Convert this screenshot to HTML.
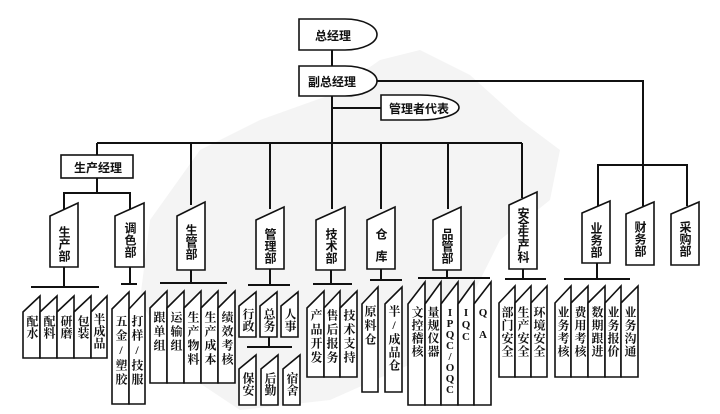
<!DOCTYPE html>
<html><head><meta charset="utf-8"><style>
html,body{margin:0;padding:0;background:#fff}
#c{position:relative;width:720px;height:414px;overflow:hidden}
svg{position:absolute;left:0;top:0}
.t{position:absolute;writing-mode:vertical-rl;text-orientation:upright;font-family:"Liberation Serif","Noto Serif CJK SC",serif;font-weight:bold;font-size:12px;letter-spacing:0px;color:#111;white-space:nowrap}
.d{font-family:"Liberation Sans","Noto Sans CJK SC",sans-serif;font-size:12px;letter-spacing:0px}
.h{position:absolute;font-family:"Liberation Sans","Noto Sans CJK SC",sans-serif;font-weight:bold;font-size:12px;color:#111;white-space:nowrap}
</style></head><body><div id="c">
<svg width="720" height="414" viewBox="0 0 720 414">
<path d="M200,150 L260,120 L330,95 L380,60 L420,50 L470,75 L520,120 L560,150 L550,200 L500,240 L470,300 L420,360 L330,400 L240,410 L180,370 L140,300 L150,220 Z" fill="#f4f4f4"/>
<g stroke="#111" stroke-width="2" fill="none">
<line x1="332" y1="50" x2="332" y2="66"/>
<line x1="332" y1="96" x2="332" y2="143"/>
<line x1="332" y1="108" x2="381" y2="108"/>
<polyline points="376,81 643,81 643,165"/>
<line x1="97" y1="143" x2="522" y2="143"/>
<line x1="97" y1="143" x2="97" y2="155"/>
<line x1="191" y1="143" x2="191" y2="205"/>
<line x1="270" y1="143" x2="270" y2="209"/>
<line x1="332" y1="143" x2="332" y2="209"/>
<line x1="381" y1="143" x2="381" y2="209"/>
<line x1="448" y1="143" x2="448" y2="209"/>
<line x1="522" y1="143" x2="522" y2="198"/>
<line x1="97" y1="178" x2="97" y2="193"/>
<polyline points="64,210 64,193 130,193 130,210"/>
<polyline points="598,206 598,165 687,165 687,206"/>
<line x1="643" y1="165" x2="643" y2="206"/>
<line x1="64" y1="267" x2="64" y2="287"/><line x1="31" y1="287" x2="99" y2="287"/>
<line x1="130" y1="267" x2="130" y2="284"/><line x1="121" y1="284" x2="137" y2="284"/>
<line x1="191" y1="270" x2="191" y2="283"/><line x1="160" y1="283" x2="227" y2="283"/>
<line x1="270" y1="269" x2="270" y2="285"/><line x1="248" y1="285" x2="290" y2="285"/>
<line x1="269" y1="337" x2="269" y2="347"/><line x1="247" y1="347" x2="292" y2="347"/>
<line x1="331" y1="270" x2="331" y2="284"/><line x1="313" y1="284" x2="352" y2="284"/>
<line x1="381" y1="269" x2="381" y2="280"/><line x1="370" y1="280" x2="402" y2="280"/>
<line x1="447" y1="270" x2="447" y2="278"/><line x1="418" y1="278" x2="490" y2="278"/>
<line x1="523" y1="269" x2="523" y2="279"/><line x1="505" y1="279" x2="546" y2="279"/>
<line x1="597" y1="263" x2="597" y2="279"/><line x1="564" y1="279" x2="630" y2="279"/>
</g>
<g stroke="#111" stroke-width="1.6" fill="#fff">
<path d="M299,19 H345 A32,15.5 0 0 1 345,50 H299 Z"/>
<path d="M299,66 H345 A32,15 0 0 1 345,96 H299 Z"/>
<path d="M381,95 H420 A39,12.5 0 0 1 420,120 H381 Z"/>
<rect x="61" y="155" width="72" height="23"/>
<path d="M50,216 L78,203 V267 H50 Z"/>
<path d="M115,216 L144,203 V267 H115 Z"/>
<path d="M177,216 L205,202 V270 H177 Z"/>
<path d="M256,220 L284,207 V269 H256 Z"/>
<path d="M316,220 L345,207 V270 H316 Z"/>
<path d="M367,220 L395,207 V269 H367 Z"/>
<path d="M433,220 L461,207 V270 H433 Z"/>
<path d="M509,205 L537,192 V269 H509 Z"/>
<path d="M582,213 L610,201 V263 H582 Z"/>
<path d="M626,214 L654,202 V265 H626 Z"/>
<path d="M671,214 L699,202 V265 H671 Z"/>
<path d="M23,312 L40,296 V358 H23 Z"/><path d="M40,312 L57,296 V358 H40 Z"/><path d="M57,312 L74,296 V358 H57 Z"/><path d="M74,312 L91,296 V358 H74 Z"/><path d="M91,312 L107,296 V358 H91 Z"/>
<path d="M112,309 L129,292 V404 H112 Z"/><path d="M129,309 L145,292 V404 H129 Z"/>
<path d="M150,308 L167,291 V383 H150 Z"/><path d="M167,308 L184,291 V383 H167 Z"/><path d="M184,308 L201,291 V383 H184 Z"/><path d="M201,308 L218,291 V383 H201 Z"/><path d="M218,308 L235,291 V383 H218 Z"/>
<path d="M239,306 L256,292 V337 H239 Z"/><path d="M260,306 L277,292 V337 H260 Z"/><path d="M281,306 L298,292 V337 H281 Z"/>
<path d="M239,369 L256,355 V405 H239 Z"/><path d="M261,369 L278,355 V405 H261 Z"/><path d="M283,369 L300,355 V405 H283 Z"/>
<path d="M307,308 L324,291 V377 H307 Z"/><path d="M324,308 L340,291 V377 H324 Z"/><path d="M340,308 L357,291 V377 H340 Z"/>
<path d="M362,304 L378,287 V392 H362 Z"/><path d="M385,304 L402,287 V392 H385 Z"/>
<path d="M408,304 L425,282 V405 H408 Z"/><path d="M425,304 L441,282 V405 H425 Z"/><path d="M441,304 L458,282 V405 H441 Z"/><path d="M458,304 L474,282 V405 H458 Z"/><path d="M474,304 L491,282 V405 H474 Z"/>
<path d="M499,303 L515,286 V377 H499 Z"/><path d="M515,303 L531,286 V377 H515 Z"/><path d="M531,303 L547,286 V377 H531 Z"/>
<path d="M555,303 L571,286 V377 H555 Z"/><path d="M571,303 L588,286 V377 H571 Z"/><path d="M588,303 L605,286 V377 H588 Z"/><path d="M605,303 L621,286 V377 H605 Z"/><path d="M621,303 L638,286 V377 H621 Z"/>
</g>
</svg>
<div class="h" style="left:315px;top:27px">总经理</div>
<div class="h" style="left:308px;top:73px">副总经理</div>
<div class="h" style="left:389px;top:100px">管理者代表</div>
<div class="h" style="left:74px;top:159px">生产经理</div>

<div class="t d" style="left:50px;top:226px;width:28px;line-height:28px">生产部</div>
<div class="t d" style="left:115px;top:222px;width:29px;line-height:29px">调色部</div>
<div class="t d" style="left:177px;top:224px;width:28px;line-height:28px">生管部</div>
<div class="t d" style="left:256px;top:228px;width:28px;line-height:28px">管理部</div>
<div class="t d" style="left:316px;top:228px;width:29px;line-height:29px">技术部</div>
<div class="t d" style="left:367px;top:228px;width:28px;line-height:28px;letter-spacing:10px">仓库</div>
<div class="t d" style="left:433px;top:228px;width:28px;line-height:28px">品管部</div>
<div class="t d" style="left:509px;top:207px;width:28px;line-height:28px;letter-spacing:-1px">安全生产科</div>
<div class="t d" style="left:582px;top:222px;width:28px;line-height:28px">业务部</div>
<div class="t d" style="left:626px;top:221px;width:28px;line-height:28px">财务部</div>
<div class="t d" style="left:671px;top:221px;width:28px;line-height:28px">采购部</div>

<div class="t" style="left:23px;top:315px;width:17px;line-height:17px">配水</div>
<div class="t" style="left:40px;top:315px;width:17px;line-height:17px">配料</div>
<div class="t" style="left:57px;top:315px;width:17px;line-height:17px">研磨</div>
<div class="t" style="left:74px;top:315px;width:17px;line-height:17px">包装</div>
<div class="t" style="left:91px;top:313px;width:16px;line-height:16px">半成品</div>
<div class="t" style="left:112px;top:315px;width:17px;line-height:17px;letter-spacing:2px">五金/塑胶</div>
<div class="t" style="left:129px;top:315px;width:16px;line-height:16px;letter-spacing:2px">打样/技服</div>
<div class="t" style="left:150px;top:311px;width:17px;line-height:17px;letter-spacing:2px">跟单组</div>
<div class="t" style="left:167px;top:311px;width:17px;line-height:17px;letter-spacing:2px">运输组</div>
<div class="t" style="left:184px;top:311px;width:17px;line-height:17px;letter-spacing:2px">生产物料</div>
<div class="t" style="left:201px;top:311px;width:17px;line-height:17px;letter-spacing:2px">生产成本</div>
<div class="t" style="left:218px;top:311px;width:17px;line-height:17px;letter-spacing:2px">绩效考核</div>
<div class="t" style="left:239px;top:308px;width:17px;line-height:17px">行政</div>
<div class="t" style="left:260px;top:308px;width:17px;line-height:17px">总务</div>
<div class="t" style="left:281px;top:308px;width:17px;line-height:17px">人事</div>
<div class="t" style="left:239px;top:372px;width:17px;line-height:17px">保安</div>
<div class="t" style="left:261px;top:372px;width:17px;line-height:17px">后勤</div>
<div class="t" style="left:283px;top:372px;width:17px;line-height:17px">宿舍</div>
<div class="t" style="left:307px;top:309px;width:17px;line-height:17px;letter-spacing:2px">产品开发</div>
<div class="t" style="left:324px;top:309px;width:16px;line-height:16px;letter-spacing:2px">售后报务</div>
<div class="t" style="left:340px;top:309px;width:17px;line-height:17px;letter-spacing:2px">技术支持</div>
<div class="t" style="left:362px;top:305px;width:16px;line-height:16px;letter-spacing:2px">原料仓</div>
<div class="t" style="left:385px;top:305px;width:17px;line-height:17px;letter-spacing:1px">半/成品仓</div>
<div class="t" style="left:408px;top:306px;width:17px;line-height:17px;letter-spacing:1px">文控稽核</div>
<div class="t" style="left:425px;top:306px;width:16px;line-height:16px;letter-spacing:1px">量规仪器</div>
<div class="t" style="left:441px;top:307px;width:17px;line-height:17px;letter-spacing:-1px;font-size:11px">IPQC/OQC</div>
<div class="t" style="left:458px;top:307px;width:16px;line-height:16px;font-size:11px">IQC</div>
<div class="t" style="left:474px;top:307px;width:17px;line-height:17px;font-size:11px;letter-spacing:10px">QA</div>
<div class="t" style="left:499px;top:306px;width:16px;line-height:16px;letter-spacing:1px">部门安全</div>
<div class="t" style="left:515px;top:306px;width:16px;line-height:16px;letter-spacing:1px">生产安全</div>
<div class="t" style="left:531px;top:306px;width:16px;line-height:16px;letter-spacing:1px">环境安全</div>
<div class="t" style="left:555px;top:306px;width:16px;line-height:16px;letter-spacing:1px">业务考核</div>
<div class="t" style="left:571px;top:306px;width:17px;line-height:17px;letter-spacing:1px">费用考核</div>
<div class="t" style="left:588px;top:306px;width:17px;line-height:17px;letter-spacing:1px">数期跟进</div>
<div class="t" style="left:605px;top:306px;width:16px;line-height:16px;letter-spacing:1px">业务报价</div>
<div class="t" style="left:621px;top:306px;width:17px;line-height:17px;letter-spacing:1px">业务沟通</div>
</div></body></html>
